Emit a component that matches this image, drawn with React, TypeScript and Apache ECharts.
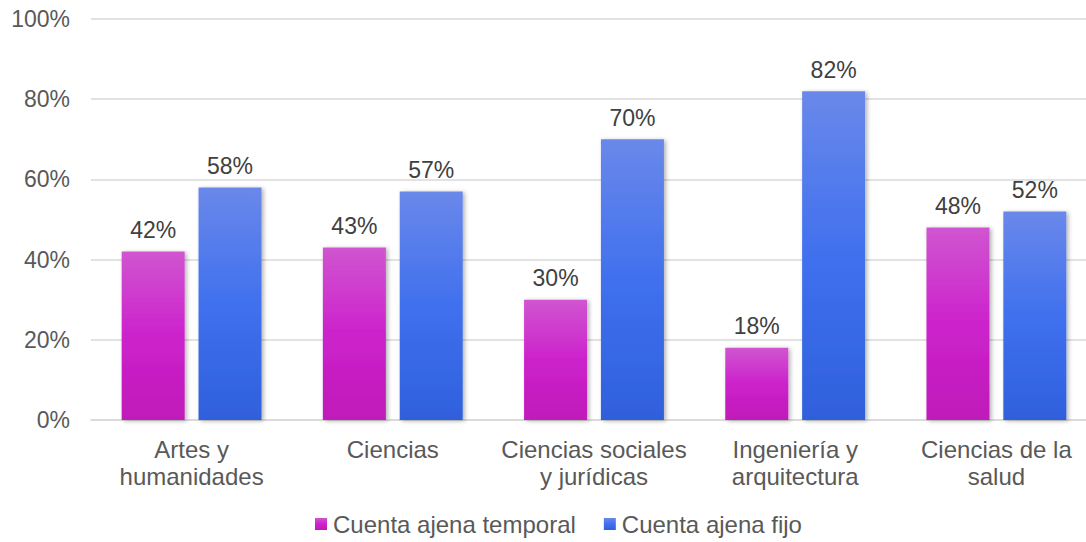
import React, { useEffect, useRef } from "react";
import * as echarts from "echarts";

const categories = [
  "Artes y\nhumanidades",
  "Ciencias",
  "Ciencias sociales\ny jurídicas",
  "Ingeniería y\narquitectura",
  "Ciencias de la\nsalud",
];
const temporal = [42, 43, 30, 18, 48];
const fijo = [58, 57, 70, 82, 52];
const yTicks = [0, 20, 40, 60, 80, 100];

export default function App() {
  const ref = useRef<HTMLDivElement>(null);
  useEffect(() => {
    if (!ref.current) return;
    const chart = echarts.init(ref.current, undefined, { renderer: "svg" });
    const font = "'Liberation Sans', Arial, sans-serif";
    const shadow = {
      shadowBlur: 4,
      shadowOffsetX: 2,
      shadowOffsetY: 1,
      shadowColor: "rgba(0,0,0,0.3)",
    };
    const label = {
      show: true,
      position: "top",
      distance: 10,
      fontSize: 23,
      color: "#404040",
      fontFamily: font,
      formatter: "{c}%",
    };
    chart.setOption({
      animation: false,
      textStyle: { fontFamily: font },
      grid: { left: 91, right: 3, top: 19, height: 401 },
      legend: {
        bottom: 1,
        left: 310,
        itemWidth: 12,
        itemHeight: 12,
        itemGap: 28,
        icon: "rect",
        textStyle: { fontSize: 24, color: "#595959", fontFamily: font, padding: [0, 0, 0, 1] },
        data: ["Cuenta ajena temporal", "Cuenta ajena fijo"],
      },
      xAxis: {
        type: "category",
        data: categories,
        axisLine: { lineStyle: { color: "#d9d9d9", width: 1.5 } },
        axisTick: { show: false },
        axisLabel: {
          fontSize: 24,
          color: "#595959",
          lineHeight: 27,
          margin: 16,
          interval: 0,
          fontFamily: font,
        },
      },
      yAxis: {
        type: "value",
        min: 0,
        max: 100,
        interval: 20,
        axisLine: { show: false },
        axisTick: { show: false },
        splitLine: { lineStyle: { color: "#d9d9d9", width: 1.5 } },
        axisLabel: {
          fontSize: 23,
          color: "#595959",
          margin: 21,
          fontFamily: font,
          formatter: (v: number) => (yTicks.includes(v) ? v + "%" : ""),
        },
      },
      series: [
        {
          name: "Cuenta ajena temporal",
          type: "bar",
          data: temporal,
          barWidth: 63,
          barGap: "22%",
          itemStyle: {
            color: new echarts.graphic.LinearGradient(0, 0, 0, 1, [
              { offset: 0, color: "#d055d0" },
              { offset: 0.5, color: "#cc22cc" },
              { offset: 1, color: "#c01ab9" },
            ]),
            ...shadow,
          },
          label,
        },
        {
          name: "Cuenta ajena fijo",
          type: "bar",
          data: fijo,
          barWidth: 63,
          itemStyle: {
            color: new echarts.graphic.LinearGradient(0, 0, 0, 1, [
              { offset: 0, color: "#6a88ea" },
              { offset: 0.5, color: "#4070ee" },
              { offset: 1, color: "#2f60dc" },
            ]),
            ...shadow,
          },
          label,
        },
      ],
    });
    return () => chart.dispose();
  }, []);
  return (
    <div
      style={{
        position: "absolute",
        left: 0,
        top: 0,
        width: 1086,
        height: 542,
        overflow: "hidden",
        background: "#fff",
      }}
    >
      <div ref={ref} style={{ width: 1100, height: 542 }} />
    </div>
  );
}
